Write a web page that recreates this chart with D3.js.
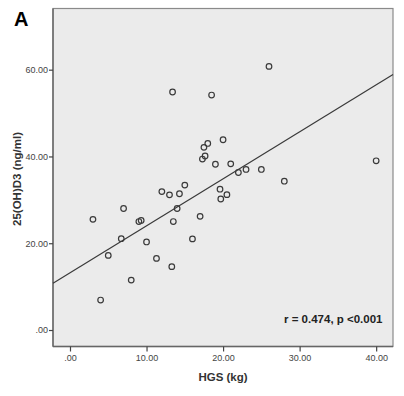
<!DOCTYPE html>
<html>
<head>
<meta charset="utf-8">
<script src="https://cdn.jsdelivr.net/npm/d3@7"></script>
<style>
html,body{margin:0;padding:0;background:#fff;}
svg{display:block;font-family:"Liberation Sans",Arial,sans-serif;}
</style>
</head>
<body>
<svg id="chart" width="404" height="396"></svg>
<script>
const hgs = [3.0,7.0,9.0,9.3,6.7,5.0,10.0,11.3,8.0,4.0,13.3,13.5,14.0,12.0,13.0,14.3,15.0,17.0,16.0,17.5,18.0,17.65,17.3,19.0,20.0,21.0,22.0,23.0,25.0,28.0,40.0,19.6,20.5,19.7,13.4,18.5,26.0];
const vitD = [25.5,28.0,25.0,25.25,21.05,17.2,20.3,16.5,11.5,6.9,14.6,25.0,28.0,31.9,31.15,31.4,33.4,26.2,21.0,42.1,43.0,40.1,39.4,38.2,43.85,38.3,36.3,37.0,37.0,34.3,39.0,32.45,31.2,30.2,54.85,54.15,60.75];
const xTicks = [0,10,20,30,40];
const yTicks = [0,20,40,60];
const fitIntercept = 13.16, fitSlope = 1.084;
const annotation = "r = 0.474, p <0.001";
const panelLabel = "A";
const xTitle = "HGS (kg)";
const yTitle = "25(OH)D3 (ng/ml)";

const svg = d3.select("#chart");
const L = 53, T = 8.5, R = 393, B = 346.5;
const x = d3.scaleLinear().domain([-2.22, 42.2]).range([L, R]);
const y = d3.scaleLinear().domain([-3.8, 74.1]).range([B, T]);

svg.append("rect").attr("x", L).attr("y", T).attr("width", R - L).attr("height", B - T)
  .attr("fill", "#ebebeb").attr("stroke", "#8a8a8a").attr("stroke-width", 1.2);

svg.append("line").attr("x1", L).attr("x2", L).attr("y1", T).attr("y2", B).attr("stroke", "#666").attr("stroke-width", 1.4);
svg.append("line").attr("x1", L).attr("x2", R).attr("y1", B).attr("y2", B).attr("stroke", "#666").attr("stroke-width", 1.4);

const fmt = v => v === 0 ? ".00" : d3.format(".2f")(v);

const xAxis = svg.append("g").attr("transform", `translate(0,${B})`)
  .call(d3.axisBottom(x).tickValues(xTicks).tickFormat(fmt).tickSize(5).tickPadding(3));
const yAxis = svg.append("g").attr("transform", `translate(${L},0)`)
  .call(d3.axisLeft(y).tickValues(yTicks).tickFormat(fmt).tickSize(4).tickPadding(1));
[xAxis, yAxis].forEach(g => {
  g.select(".domain").remove();
  g.selectAll(".tick line").attr("stroke", "#444").attr("stroke-width", 1.2);
  g.selectAll(".tick text").attr("fill", "#444").style("font-size", "9px")
    .style("font-family", "'Liberation Sans',Arial,sans-serif");
});

const xs = x.domain();
svg.append("line")
  .attr("x1", x(xs[0])).attr("y1", y(fitIntercept + fitSlope * xs[0]))
  .attr("x2", x(xs[1])).attr("y2", y(fitIntercept + fitSlope * xs[1]))
  .attr("stroke", "#3a3a3a").attr("stroke-width", 1.2);

svg.append("g").selectAll("circle").data(hgs.map((h, i) => [h, vitD[i]])).join("circle")
  .attr("cx", d => x(d[0])).attr("cy", d => y(d[1])).attr("r", 2.8)
  .attr("fill", "none").attr("stroke", "#3a3a3a").attr("stroke-width", 1.2);

svg.append("text").attr("x", 382.5).attr("y", 323).attr("text-anchor", "end")
  .attr("font-weight", "bold").attr("font-size", 11.5).attr("fill", "#222").text(annotation);

svg.append("text").attr("x", 14).attr("y", 26).attr("font-weight", "bold")
  .attr("font-size", 20).attr("fill", "#000").text(panelLabel);

svg.append("text").attr("x", (L + R) / 2).attr("y", 381).attr("text-anchor", "middle")
  .attr("font-weight", "bold").attr("font-size", 11.5).attr("fill", "#333").text(xTitle);

svg.append("text").attr("transform", `translate(21,179) rotate(-90)`)
  .attr("text-anchor", "middle").attr("font-weight", "bold").attr("font-size", 11.5)
  .attr("fill", "#333").text(yTitle);
</script>
</body>
</html>
